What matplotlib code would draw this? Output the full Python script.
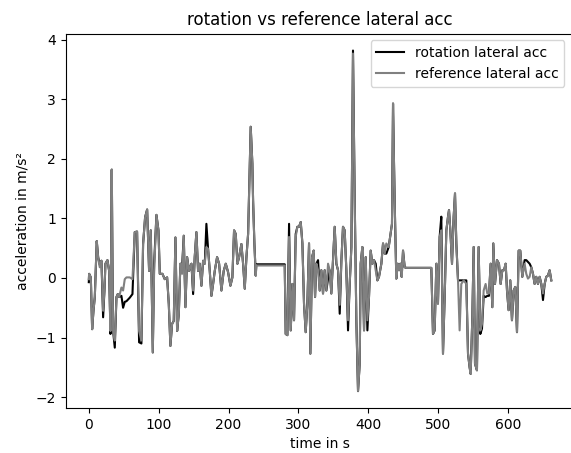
import numpy as np
import matplotlib
matplotlib.use("Agg")
import matplotlib.pyplot as plt

# time in s (shared by both signals)
time = [
    0.0, 0.5, 2.9, 4.8, 6.7, 8.6, 11.4, 13.4, 15.7, 18.1,
    20.5, 22.4, 23.8, 26.7, 29.1, 31.0, 32.9, 33.9, 34.8, 37.2,
    39.6, 41.5, 43.4, 46.7, 49.1, 51.5, 53.9, 58.7, 62.5, 65.8,
    69.1, 72.0, 75.3, 77.7, 80.6, 83.5, 86.3, 88.7, 91.6, 93.5,
    96.8, 99.7, 101.6, 105.4, 108.7, 112.1, 114.5, 116.8, 119.2, 121.6,
    124.0, 126.4, 128.8, 131.1, 133.5, 135.9, 138.3, 140.7, 143.5, 146.9,
    149.3, 151.6, 154.0, 156.4, 158.8, 161.2, 163.6, 166.0, 168.3, 170.7,
    173.1, 175.5, 177.9, 180.3, 183.6, 186.5, 189.8, 193.1, 196.0, 199.3,
    202.7, 205.5, 207.9, 210.3, 212.7, 215.1, 218.4, 220.8, 223.2, 225.6,
    228.0, 231.7, 234.1, 235.1, 237.0, 238.9, 239.8, 280.4, 281.8, 284.2,
    286.6, 289.0, 291.4, 293.7, 296.1, 298.5, 300.9, 303.3, 305.7, 308.0,
    310.4, 312.8, 315.2, 317.1, 319.5, 321.9, 323.8, 325.7, 328.1, 330.5,
    332.8, 335.2, 337.6, 340.0, 342.4, 344.8, 347.1, 349.5, 351.9, 354.3,
    356.7, 359.1, 361.5, 363.8, 366.2, 368.6, 371.0, 373.4, 375.8, 378.1,
    380.5, 382.9, 385.3, 387.7, 389.1, 391.5, 393.9, 396.3, 398.7, 401.0,
    403.4, 405.8, 408.2, 410.6, 413.0, 415.3, 418.7, 421.1, 423.5, 425.8,
    429.2, 432.0, 433.9, 435.4, 436.8, 438.2, 440.1, 442.0, 444.0, 445.9,
    447.8, 449.7, 452.1, 454.5, 490.2, 492.6, 495.0, 497.4, 499.7, 502.1,
    504.5, 506.9, 509.3, 511.7, 514.1, 515.5, 517.4, 519.8, 522.2, 524.1,
    526.0, 528.4, 530.7, 533.1, 536.5, 540.3, 542.7, 545.0, 546.5, 548.9,
    550.8, 552.7, 555.5, 557.9, 560.3, 562.7, 565.1, 567.9, 570.3, 572.7,
    575.1, 577.5, 578.9, 581.3, 584.2, 587.0, 589.4, 591.8, 594.2, 596.6,
    598.5, 600.8, 603.2, 605.6, 608.0, 610.4, 612.8, 615.2, 617.5, 620.4,
    623.7, 626.1, 628.5, 630.9, 633.3, 635.7, 638.0, 640.4, 642.8, 645.2,
    647.6, 650.0, 652.4, 654.7, 657.1, 659.5, 661.9,
]

# lateral acceleration from rotation (black)
rotation_acc = [
    -0.07, 0.07, 0.01, -0.86, -0.55, -0.32, 0.62, 0.35, 0.22, 0.29,
    -0.66, -0.21, 0.24, 0.30, 0.12, -0.94, 1.82, 0.24, -0.89, -1.17,
    -0.32, -0.27, -0.32, -0.30, -0.50, -0.40, -0.39, -0.33, -0.27, 0.77,
    0.78, -1.08, -1.10, 0.57, 1.02, 1.15, 0.12, 0.80, -1.25, 0.24,
    1.06, 0.80, 0.07, 0.07, -0.02, 0.01, -0.44, -1.14, -0.77, -0.72,
    0.68, -0.89, -0.61, 0.24, 0.18, 0.71, -0.49, 0.35, 0.12, 0.24,
    -0.27, 0.35, 0.77, 0.12, 0.24, -0.13, 0.29, 0.24, 0.91, 0.49,
    0.12, -0.30, -0.10, 0.12, 0.35, 0.24, -0.21, 0.12, 0.24, 0.10,
    -0.13, 0.01, 0.80, 0.74, 0.24, 0.35, 0.57, 0.24, -0.18, 0.35,
    0.74, 2.54, 1.92, 1.31, 0.58, 0.04, 0.23, 0.23, -0.94, -0.96,
    0.91, -0.88, -0.10, -0.71, 0.74, 0.86, 0.86, 0.94, 0.58, -0.43,
    -0.91, -0.43, 0.58, -1.27, 0.35, 0.46, -0.32, 0.24, 0.30, -0.21,
    0.13, -0.26, 0.13, -0.21, -0.01, 0.13, -0.26, 0.30, 0.86, 0.24,
    0.13, -0.60, 0.30, 0.86, 0.80, 0.13, -0.88, -0.10, 0.52, 3.82,
    1.36, -0.71, -1.90, -1.44, 0.24, 0.52, -0.88, 0.35, -0.88, -0.32,
    0.46, 0.24, 0.30, 0.24, -0.04, 0.02, 0.24, 0.58, 0.41, 0.41,
    0.52, 0.75, 0.91, 2.93, 1.92, 1.03, -0.01, 0.24, 0.13, 0.24,
    0.02, 0.46, 0.18, 0.17, 0.17, -0.94, -0.88, 0.24, -0.43, 0.69,
    1.03, -1.27, -0.32, 0.80, 1.03, 1.14, 0.80, 0.24, 1.03, 1.42,
    0.58, -0.04, -0.04, -0.04, -0.04, -0.04, -1.27, -1.50, -1.61, -0.66,
    0.52, -1.44, -1.55, 0.52, -0.94, -0.85, -0.30, -0.32, -0.30, -0.30,
    0.24, -0.49, 0.58, -0.10, 0.30, 0.24, -0.10, 0.13, 0.13, 0.24,
    -0.21, -0.54, -0.04, -0.71, -0.21, -0.15, -0.91, 0.46, 0.46, 0.02,
    0.30, 0.30, 0.27, 0.24, 0.18, 0.07, -0.10, 0.02, -0.10, 0.02,
    -0.10, -0.37, -0.10, 0.02, 0.04, 0.13, -0.04,
]

# reference lateral acceleration (grey)
reference_acc = [
    -0.02, 0.07, 0.01, -0.86, -0.55, -0.32, 0.62, 0.35, 0.18, 0.29,
    -0.55, -0.21, 0.24, 0.30, 0.12, -0.89, 1.82, 0.24, -0.89, -1.05,
    -0.32, -0.27, -0.32, -0.16, -0.21, -0.02, 0.01, 0.01, -0.02, 0.77,
    0.78, -0.89, -1.05, 0.57, 1.02, 1.15, 0.12, 0.80, -1.25, 0.12,
    1.06, 0.80, 0.07, 0.07, -0.02, 0.01, -0.44, -1.14, -0.77, -0.72,
    0.68, -0.89, -0.61, 0.24, 0.07, 0.71, -0.49, 0.35, 0.12, 0.24,
    -0.21, 0.35, 0.77, 0.12, 0.24, -0.13, 0.29, 0.24, 0.52, 0.49,
    0.12, -0.30, -0.10, 0.12, 0.35, 0.24, -0.21, 0.12, 0.24, 0.10,
    -0.13, 0.01, 0.80, 0.74, 0.24, 0.35, 0.57, 0.24, -0.18, 0.35,
    0.74, 2.54, 1.92, 1.31, 0.58, 0.04, 0.21, 0.21, -0.94, -0.96,
    0.69, -0.88, -0.10, -0.71, 0.69, 0.86, 0.86, 0.94, 0.58, -0.43,
    -0.91, -0.43, 0.58, -1.27, 0.35, 0.46, -0.32, 0.24, 0.13, -0.21,
    0.13, -0.26, 0.13, -0.21, 0.24, 0.13, -0.26, 0.30, 0.86, 0.24,
    0.13, -0.45, 0.30, 0.86, 0.80, 0.13, -0.71, -0.10, 0.52, 3.77,
    1.36, -0.71, -1.90, -1.44, 0.24, 0.52, -0.88, 0.35, -0.71, -0.32,
    0.46, 0.24, 0.30, 0.13, -0.04, 0.02, 0.24, 0.58, 0.41, 0.58,
    0.52, 0.75, 0.91, 2.93, 1.92, 1.03, -0.01, 0.24, 0.13, 0.24,
    0.02, 0.46, 0.18, 0.17, 0.17, -0.94, -0.88, 0.24, -0.43, 0.69,
    0.80, -1.27, -0.32, 0.80, 1.03, 1.14, 0.80, 0.24, 1.03, 1.42,
    0.58, -0.04, -0.88, -0.10, -0.04, -0.10, -1.27, -1.50, -1.61, -0.66,
    0.52, -1.44, -1.55, 0.52, -0.88, -0.77, -0.21, -0.10, -0.26, -0.26,
    0.24, -0.49, 0.58, -0.10, 0.30, 0.24, -0.10, 0.13, 0.13, 0.24,
    -0.21, -0.54, -0.04, -0.71, -0.21, -0.15, -0.91, 0.46, 0.46, 0.02,
    0.24, 0.07, -0.01, 0.02, 0.18, 0.07, -0.10, 0.02, -0.10, 0.02,
    -0.10, -0.26, -0.10, 0.02, 0.04, 0.13, -0.04,
]

fig = plt.figure(figsize=(5.71, 4.53), dpi=100)
# right spine sits just outside the picture, like in the reference
ax = fig.add_axes([0.115, 0.099, 0.891, 0.827])

ax.plot(time, rotation_acc, color="black", label="rotation lateral acc")
ax.plot(time, reference_acc, color="grey", label="reference lateral acc")

ax.set_title("rotation vs reference lateral acc")
ax.set_xlabel("time in s")
ax.set_ylabel("acceleration in m/s²")
ax.legend(loc="upper right", bbox_to_anchor=(0.994, 1.0))

fig.savefig("out.png", dpi=100)
